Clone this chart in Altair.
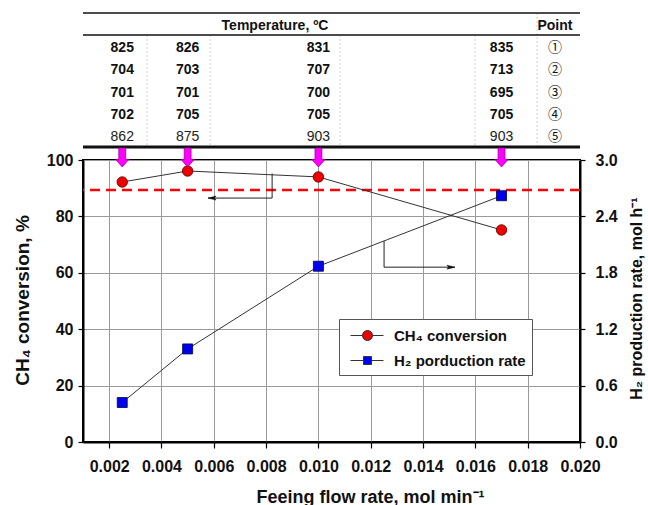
import altair as alt
import pandas as pd

# ---------------- data ----------------
flow = [0.0025, 0.005, 0.010, 0.017]
ch4_conv = [92.2, 96.1, 94.0, 75.2]
h2_rate = [0.42, 0.99, 1.87, 2.62]
target_conv = [89.4]

temp_rows = [
    [825, 826, 831, 835],
    [704, 703, 707, 713],
    [701, 701, 700, 695],
    [702, 705, 705, 705],
    [862, 875, 903, 903],
]
point_labels = ["①", "②", "③", "④", "⑤"]
table_header = "Temperature, ºC"
point_header = "Point"

x_ticks = [0.002, 0.004, 0.006, 0.008, 0.010, 0.012, 0.014, 0.016, 0.018, 0.020]
y_left_ticks = [0, 20, 40, 60, 80, 100]
y_right_ticks = [0.0, 0.6, 1.2, 1.8, 2.4, 3.0]

legend_labels = ["CH₄ conversion", "H₂ porduction rate"]

# annotation arrows (data coordinates)
ch4_arrow_x = [0.00823, 0.00823, 0.00578]
ch4_arrow_y = [95.2, 86.5, 86.5]
h2_arrow_x = [0.01251, 0.01251, 0.01522]
h2_arrow_y = [2.14, 1.86, 1.86]

# table layout (x in flow units, rows in row units)
header_x = 0.00834
point_col_x = 0.01904
sep_x = [0.00345, 0.00586, 0.01083, 0.01599]
point_sep_x = 0.01836
line_rows = [-0.57, 0.42, 5.45]
line_widths = [1.5, 1.5, 3]
arrow_row = 5.92

FONT = "Liberation Sans"

# ---------------- scales / axes ----------------
X_SCALE = alt.Scale(domain=[0.001, 0.020], nice=False, zero=False)
X_AXIS = alt.Axis(values=x_ticks, format=".3f", title="Feeing flow rate, mol min⁻¹",
                  grid=True, labelPadding=10, tickSize=6, labelOverlap=False, labelFlush=False,
                  titleFontSize=18, titleX=287, titleY=55, titleBaseline="middle",
                  titleAnchor="start", titleAlign="center")


def X(field="x"):
    return alt.X(f"{field}:Q", scale=X_SCALE, axis=X_AXIS)


LEFT_SCALE = alt.Scale(domain=[0, 100], nice=False, zero=False)
LEFT_AXIS = alt.Axis(values=y_left_ticks, title="CH₄ conversion, %", orient="left",
                     grid=True, labelPadding=5, tickSize=5, labelFlush=False, labelOverlap=False,
                     titleFontSize=19, titleAngle=270, titleX=-61, titleY=140,
                     titleBaseline="middle", titleAlign="center", titleAnchor="start")


def YL():
    return alt.Y("y:Q", scale=LEFT_SCALE, axis=LEFT_AXIS)


RIGHT_SCALE = alt.Scale(domain=[0, 3], nice=False, zero=False)
RIGHT_AXIS = alt.Axis(values=y_right_ticks, format=".1f", title="H₂ production rate, mol h⁻¹",
                      orient="right", grid=False, labelPadding=10, tickSize=5,
                      labelFlush=False, labelOverlap=False,
                      titleFontSize=16, titleAngle=270, titleX=56, titleY=138,
                      titleBaseline="middle", titleAlign="center", titleAnchor="start")


def YR():
    return alt.Y("y:Q", scale=RIGHT_SCALE, axis=RIGHT_AXIS)


TABLE_SCALE = alt.Scale(domain=[1, 5], range=[-112, -23], nice=False, zero=False)


def YT(field="row"):
    return alt.Y(f"{field}:Q", scale=TABLE_SCALE, axis=None)


# ---------------- frames ----------------
ch4_df = pd.DataFrame({"x": flow, "y": ch4_conv})
h2_df = pd.DataFrame({"x": flow, "y": h2_rate})
target_df = pd.DataFrame({"y": target_conv})
ch4_arrow_df = pd.DataFrame({"x": ch4_arrow_x, "y": ch4_arrow_y, "i": [0, 1, 2]})
h2_arrow_df = pd.DataFrame({"x": h2_arrow_x, "y": h2_arrow_y, "i": [0, 1, 2]})

table_records = []
for r, vals in enumerate(temp_rows, start=1):
    for fx, v in zip(flow, vals):
        table_records.append({"x": fx, "row": r, "label": str(v)})
table_df = pd.DataFrame(table_records)
points_df = pd.DataFrame({"x": [point_col_x] * 5, "row": [1, 2, 3, 4, 5], "label": point_labels})
header_df = pd.DataFrame({"x": [header_x, point_col_x], "row": [0, 0],
                          "label": [table_header, point_header]})
lines_df = pd.DataFrame({"x": [0.001] * 3, "x2": [0.020] * 3, "row": line_rows, "w": line_widths})
sep_df = pd.DataFrame({"x": sep_x + [point_sep_x],
                       "row": [line_rows[1]] * len(sep_x) + [line_rows[0]],
                       "row2": [line_rows[2]] * (len(sep_x) + 1)})
marrow_df = pd.DataFrame({"x": flow, "row": [arrow_row] * len(flow)})

ARROW_DOWN = "M-0.36,-1 H0.36 V0.2 H0.7 L0,1 L-0.7,0.2 H-0.36 Z"
HEAD_LEFT = "M0,0 L2,-0.5 L1.6,0 L2,0.5 Z"
HEAD_RIGHT = "M0,0 L-2,-0.5 L-1.6,0 L-2,0.5 Z"

# ---------------- left group ----------------
target = alt.Chart(target_df).mark_rule(color="#FF0000", strokeWidth=2.5, strokeDash=[10, 6]).encode(
    y=YL())
ch4_line = alt.Chart(ch4_df).mark_line(color="#333333", strokeWidth=1).encode(x=X(), y=YL())
ch4_pts = alt.Chart(ch4_df).mark_point(shape="circle", filled=True, size=110, fill="#EE0000",
                                        stroke="#550000", strokeWidth=0.8, opacity=1).encode(x=X(), y=YL())
ch4_arrow = alt.Chart(ch4_arrow_df).mark_line(color="#222222", strokeWidth=1).encode(
    x=X(), y=YL(), order="i:Q")
ch4_head = alt.Chart(ch4_arrow_df).transform_filter("datum.i == 2").mark_point(
    shape=HEAD_LEFT, filled=True, size=64, fill="#111111", stroke="#111111", strokeWidth=0.5,
    opacity=1).encode(x=X(), y=YL())
left = alt.layer(target, ch4_line, ch4_arrow, ch4_head, ch4_pts)

# ---------------- right group ----------------
h2_line = alt.Chart(h2_df).mark_line(color="#333333", strokeWidth=1).encode(x=X(), y=YR())
h2_pts = alt.Chart(h2_df).mark_point(shape="square", filled=True, size=100, fill="#0000EE",
                                      stroke="#000044", strokeWidth=0.8, opacity=1).encode(x=X(), y=YR())
h2_arrow = alt.Chart(h2_arrow_df).mark_line(color="#222222", strokeWidth=1).encode(
    x=X(), y=YR(), order="i:Q")
h2_head = alt.Chart(h2_arrow_df).transform_filter("datum.i == 2").mark_point(
    shape=HEAD_RIGHT, filled=True, size=64, fill="#111111", stroke="#111111", strokeWidth=0.5,
    opacity=1).encode(x=X(), y=YR())
right = alt.layer(h2_line, h2_arrow, h2_head, h2_pts)

# ---------------- table group ----------------
bold_txt = alt.Chart(table_df).transform_filter("datum.row <= 4").mark_text(
    font=FONT, fontSize=14, fontWeight="bold", baseline="middle", color="#111111").encode(
    x=X(), y=YT(), text="label:N")
norm_txt = alt.Chart(table_df).transform_filter("datum.row == 5").mark_text(
    font=FONT, fontSize=14, baseline="middle", color="#222222").encode(
    x=X(), y=YT(), text="label:N")
pt_txt = alt.Chart(points_df).mark_text(
    font="Noto Sans CJK JP", fontSize=14, baseline="middle", color="#111111").encode(
    x=X(), y=YT(), text="label:N")
hdr_txt = alt.Chart(header_df).mark_text(
    font=FONT, fontSize=14, fontWeight="bold", baseline="middle", color="#111111").encode(
    x=X(), y=YT(), text="label:N")
tbl_lines = alt.Chart(lines_df).mark_rule(color="#111111").encode(
    x=X(), x2="x2:Q", y=YT(), strokeWidth=alt.StrokeWidth("w:Q", scale=None))
tbl_seps = alt.Chart(sep_df).mark_rule(color="#d0d0d0", strokeWidth=1, strokeDash=[2, 2]).encode(
    x=X(), y=YT(), y2="row2:Q")
marrows = alt.Chart(marrow_df).mark_point(shape=ARROW_DOWN, filled=True, size=361, fill="#FF00FF",
                                          stroke="#990099", strokeWidth=0.8, opacity=1).encode(
    x=X(), y=YT())
table = alt.layer(tbl_seps, tbl_lines, hdr_txt, bold_txt, norm_txt, pt_txt, marrows)

# ---------------- legend ----------------
SYM_CIRCLE = "M-0.5,0 H0.7 M1.7,0 H2.8 M0.7,0 A0.5,0.5 0 1,1 1.7,0 A0.5,0.5 0 1,1 0.7,0 Z"
SYM_SQUARE = "M-0.5,0 H0.8 M1.6,0 H2.8 M0.8,-0.4 H1.6 V0.4 H0.8 Z"
LEG = alt.Legend(title=None, orient="none", legendX=256, legendY=159, padding=6,
                 strokeColor="#555555", fillColor="white", labelFont=FONT, labelFontSize=15,
                 labelFontWeight="bold", labelColor="#111111", symbolSize=400, rowPadding=6,
                 labelOffset=28, symbolStrokeWidth=1, symbolOpacity=1)
legend_layer = alt.Chart(pd.DataFrame({"s": legend_labels})).transform_filter("false").mark_point(
    filled=True, stroke="#333333", strokeWidth=1, opacity=1).encode(
    fill=alt.Fill("s:N", scale=alt.Scale(domain=legend_labels, range=["#EE0000", "#0000EE"]), legend=LEG),
    shape=alt.Shape("s:N", scale=alt.Scale(domain=legend_labels, range=[SYM_CIRCLE, SYM_SQUARE]), legend=LEG),
)

chart = alt.layer(left, right, table, legend_layer).resolve_scale(y="independent").properties(
    width=497, height=282, autosize=alt.AutoSizeParams(type="none"),
    padding={"left": 83, "top": 160, "right": 68, "bottom": 63},
    background="white",
).configure(font=FONT).configure_view(stroke="#000000", strokeWidth=2).configure_axis(
    labelFont=FONT, labelFontSize=16, labelFontWeight="bold", labelColor="#111111",
    titleFont=FONT, titleFontWeight="bold", titleColor="#111111",
    domainColor="#000000", domainWidth=2, tickColor="#000000", tickWidth=1.2,
    gridColor="#9a9a9a", gridWidth=1, gridOpacity=1,
).configure_legend(labelFontWeight="bold", labelFont=FONT, labelFontSize=15)

chart.save("out.html", embed_options={"renderer": "svg", "actions": False})
